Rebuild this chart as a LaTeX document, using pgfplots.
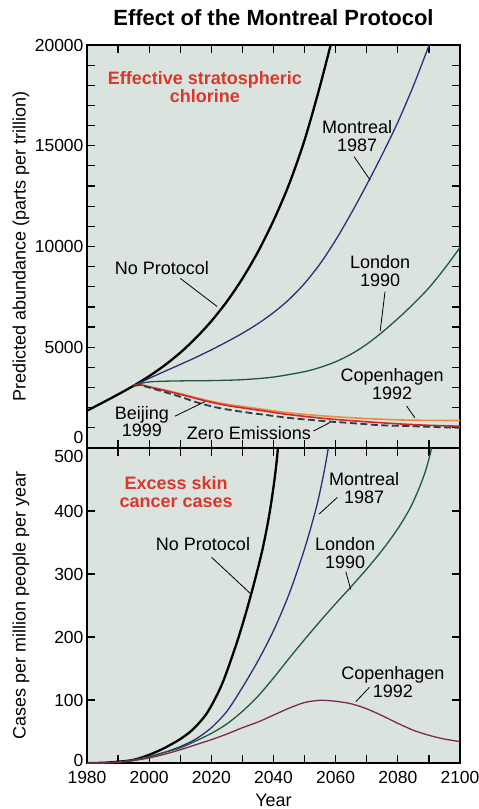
\documentclass[border=0pt]{standalone}
\usepackage{fontspec}
\setmainfont{Liberation Sans}
\usepackage{pgfplots}
\pgfplotsset{compat=1.18}

\definecolor{panelbg}{RGB}{219,227,223}
\definecolor{montrealblue}{RGB}{43,47,120}
\definecolor{londongreen}{RGB}{31,88,66}
\definecolor{copenorange}{RGB}{232,142,62}
\definecolor{beijingred}{RGB}{214,36,40}
\definecolor{zeroslate}{RGB}{44,62,72}
\definecolor{copenmaroon}{RGB}{125,40,85}
\definecolor{headred}{RGB}{218,56,42}

\newcommand{\lab}{\fontsize{18}{17.5}\selectfont}
\newcommand{\tlab}{\fontsize{17.5}{20}\selectfont}

\tikzset{ptr/.style={black, line width=0.8pt}}

\pgfplotsset{
  panel/.style={
    scale only axis, width=373pt,
    xmin=1980, xmax=2100,
    axis background/.style={fill=panelbg},
    axis line style={line width=2.2pt},
    tick align=inside, tick pos=both,
    major tick length=8pt, minor tick length=8pt,
    every tick/.style={black, line width=1.2pt},
    xtick={1980,2000,...,2100}, minor x tick num=1,
    scaled y ticks=false,
    /pgf/number format/assume math mode=true,
    /pgf/number format/1000 sep={},
    tick label style={font=\tlab},
    xticklabel style={yshift=-5pt},
    label style={font=\lab},
  },
  nop/.style={black, line width=2.3pt, smooth},
  mon/.style={montrealblue, line width=1.3pt, smooth},
  lon/.style={londongreen, line width=1.3pt, smooth},
}

\begin{document}
\begin{tikzpicture}
\path[use as bounding box] (-87pt,-46pt) rectangle (392pt,763pt);

% ---------------- upper panel: effective stratospheric chlorine
\begin{axis}[panel,
  at={(0pt,315pt)}, anchor=south west, height=403pt,
  ymin=0, ymax=20000,
  ytick={0,5000,...,20000}, minor y tick num=4,
  yticklabels={\smash{\raisebox{4pt}{0}},5000,10000,15000,20000},
  xticklabels={},
  ylabel={Predicted abundance (parts per trillion)},
  ylabel style={at={(axis description cs:-0.177,0.5)}, anchor=center},
  title={Effect of the Montreal Protocol},
  title style={at={(axis description cs:0.5,1.052)}, anchor=center,
    font=\fontsize{22}{24}\selectfont\bfseries},
]
% No Protocol
\addplot[nop] coordinates {
 (1980,1850) (1985,2250) (1990,2660) (1995,3090) (2000,3565) (2005,4105)
 (2010,4730) (2015,5455) (2020,6295) (2025,7270) (2030,8410) (2035,9735)
 (2040,11285) (2045,13085) (2050,15285) (2055,17985) (2060,20985)};
% Montreal 1987
\addplot[mon] coordinates {
 (1995,3080) (2000,3455) (2005,3805) (2010,4145) (2015,4495) (2020,4870)
 (2025,5270) (2030,5695) (2035,6170) (2040,6720) (2045,7370) (2050,8170)
 (2055,9145) (2060,10320) (2065,11645) (2070,13070) (2075,14570)
 (2080,16170) (2085,17970) (2090,19970) (2092,20800)};
% London 1990
\addplot[lon] coordinates {
 (1995,3080) (1998,3230) (2002,3300) (2010,3330) (2020,3345) (2030,3390)
 (2040,3520) (2050,3790) (2055,4000) (2060,4280) (2065,4660) (2070,5150)
 (2075,5750) (2080,6420) (2085,7150) (2090,7950) (2095,8900) (2100,9950)};
% Copenhagen 1992
\addplot[copenorange, line width=1.6pt, smooth] coordinates {
 (1995,3080) (1997,3150) (2000,3050) (2005,2880) (2010,2700) (2015,2500)
 (2020,2320) (2025,2170) (2031,2040) (2037,1910) (2042,1800) (2047,1710)
 (2053,1630) (2058,1570) (2064,1510) (2070,1460) (2075,1425) (2080,1395)
 (2085,1380) (2090,1370) (2100,1365)};
% Beijing 1999
\addplot[beijingred, line width=1.6pt, smooth] coordinates {
 (1995,3080) (1997,3140) (2000,3030) (2005,2850) (2010,2660) (2015,2460)
 (2020,2270) (2025,2110) (2031,1970) (2037,1840) (2042,1720) (2047,1620)
 (2053,1520) (2058,1440) (2064,1370) (2070,1300) (2075,1250) (2080,1200)
 (2085,1160) (2090,1125) (2100,1080)};
% Zero Emissions
\addplot[zeroslate, line width=1.8pt, dash pattern=on 7pt off 3.5pt, smooth] coordinates {
 (1995,3080) (1997,3120) (2000,3000) (2004.6,2793) (2010,2544) (2015,2280)
 (2020.6,2046) (2026,1890) (2031.4,1764) (2037,1650) (2042,1548) (2047,1460)
 (2053,1382) (2058,1310) (2064,1249) (2069,1190) (2074,1133) (2080,1100)
 (2085,1080) (2092,1040) (2100,1000)};

\node[font=\lab\bfseries, text=headred, align=center]
  at (rel axis cs:0.316,0.896) {Effective stratospheric\\chlorine};
\node[font=\lab, align=center] at (rel axis cs:0.201,0.447) {No Protocol};
\draw[ptr] (rel axis cs:0.250,0.421) -- (rel axis cs:0.349,0.351);
\node[font=\lab, align=center] at (rel axis cs:0.724,0.774) {Montreal\\1987};
\draw[ptr] (rel axis cs:0.716,0.723) -- (rel axis cs:0.759,0.665);
\node[font=\lab, align=center] at (rel axis cs:0.786,0.439) {London\\1990};
\draw[ptr] (rel axis cs:0.799,0.388) -- (rel axis cs:0.786,0.290);
\node[font=\lab, align=center] at (rel axis cs:0.818,0.159) {Copenhagen\\1992};
\draw[ptr] (rel axis cs:0.857,0.104) -- (rel axis cs:0.879,0.075);
\node[font=\lab, align=center] at (rel axis cs:0.147,0.065) {Beijing\\1999};
\draw[ptr] (rel axis cs:0.236,0.079) -- (rel axis cs:0.316,0.115);
\node[font=\lab] at (rel axis cs:0.434,0.037) {Zero Emissions};
\draw[ptr] (rel axis cs:0.607,0.042) -- (rel axis cs:0.651,0.063);
\end{axis}

% ---------------- lower panel: excess skin cancer cases
\begin{axis}[panel,
  at={(0pt,0pt)}, anchor=south west, height=315pt,
  ymin=0, ymax=500,
  ytick={0,100,...,500},
  yticklabels={\smash{\raisebox{-3pt}{0}},100,200,300,400,\smash{\raisebox{-14pt}{500}}},
  xlabel={Year},
  xlabel style={at={(axis description cs:0.5,-0.118)}, anchor=center},
  ylabel={Cases per million people per year},
  ylabel style={at={(axis description cs:-0.177,0.5)}, anchor=center},
]
% No Protocol
\addplot[nop] coordinates {
 (1980,0) (1985,0.3) (1990,2) (1995,5) (2000,13) (2005,24) (2010,38)
 (2014,53) (2018,75) (2021,100) (2024,132) (2028,188) (2031,236)
 (2034,290) (2036.5,340) (2038.5,390) (2040,438) (2041,478) (2041.8,520)};
% Montreal 1987
\addplot[mon] coordinates {
 (1980,0) (1985,0.3) (1990,1.5) (1995,4.5) (2000,10) (2005,17) (2010,26)
 (2015,38) (2020,56) (2025,82) (2030,120) (2035,162) (2040,210) (2045,268)
 (2050,340) (2054,410) (2056.5,468) (2058,512) (2058.6,540)};
% London 1990
\addplot[lon] coordinates {
 (1980,0) (1985,0.3) (1990,1.5) (1995,5) (2000,10) (2005,17) (2010,24)
 (2015,35) (2020,47) (2025,62) (2030,82) (2035,106) (2040,135) (2045,166)
 (2050,196) (2055,225) (2060,253) (2065,280) (2070,308) (2075,338) (2080,372)
 (2084,405) (2087,438) (2089,465) (2090.5,492) (2091.5,515)};
% Copenhagen 1992
\addplot[copenmaroon, line width=1.3pt, smooth] coordinates {
 (1980,0) (1985,0.2) (1990,1) (1995,4) (2000,8) (2005,14) (2010,21) (2015,29)
 (2020,37) (2025,46) (2030,56) (2035,65) (2040,76) (2045,87) (2050,96)
 (2055,99.5) (2060,98) (2065,94) (2070,86) (2075,75) (2080,63) (2085,52)
 (2090,44) (2095,38) (2100,34)};

\node[font=\lab\bfseries, text=headred, align=center]
  at (rel axis cs:0.239,0.860) {Excess skin\\cancer cases};
\node[font=\lab] at (rel axis cs:0.311,0.694) {No Protocol};
\draw[ptr] (rel axis cs:0.334,0.653) -- (rel axis cs:0.439,0.537);
\node[font=\lab, align=center] at (rel axis cs:0.743,0.873) {Montreal\\1987};
\draw[ptr] (rel axis cs:0.671,0.843) -- (rel axis cs:0.622,0.790);
\node[font=\lab, align=center] at (rel axis cs:0.692,0.667) {London\\1990};
\draw[ptr] (rel axis cs:0.694,0.607) -- (rel axis cs:0.707,0.551);
\node[font=\lab, align=center] at (rel axis cs:0.820,0.257) {Copenhagen\\1992};
\draw[ptr] (rel axis cs:0.757,0.240) -- (rel axis cs:0.721,0.195);
\end{axis}
\end{tikzpicture}
\end{document}
